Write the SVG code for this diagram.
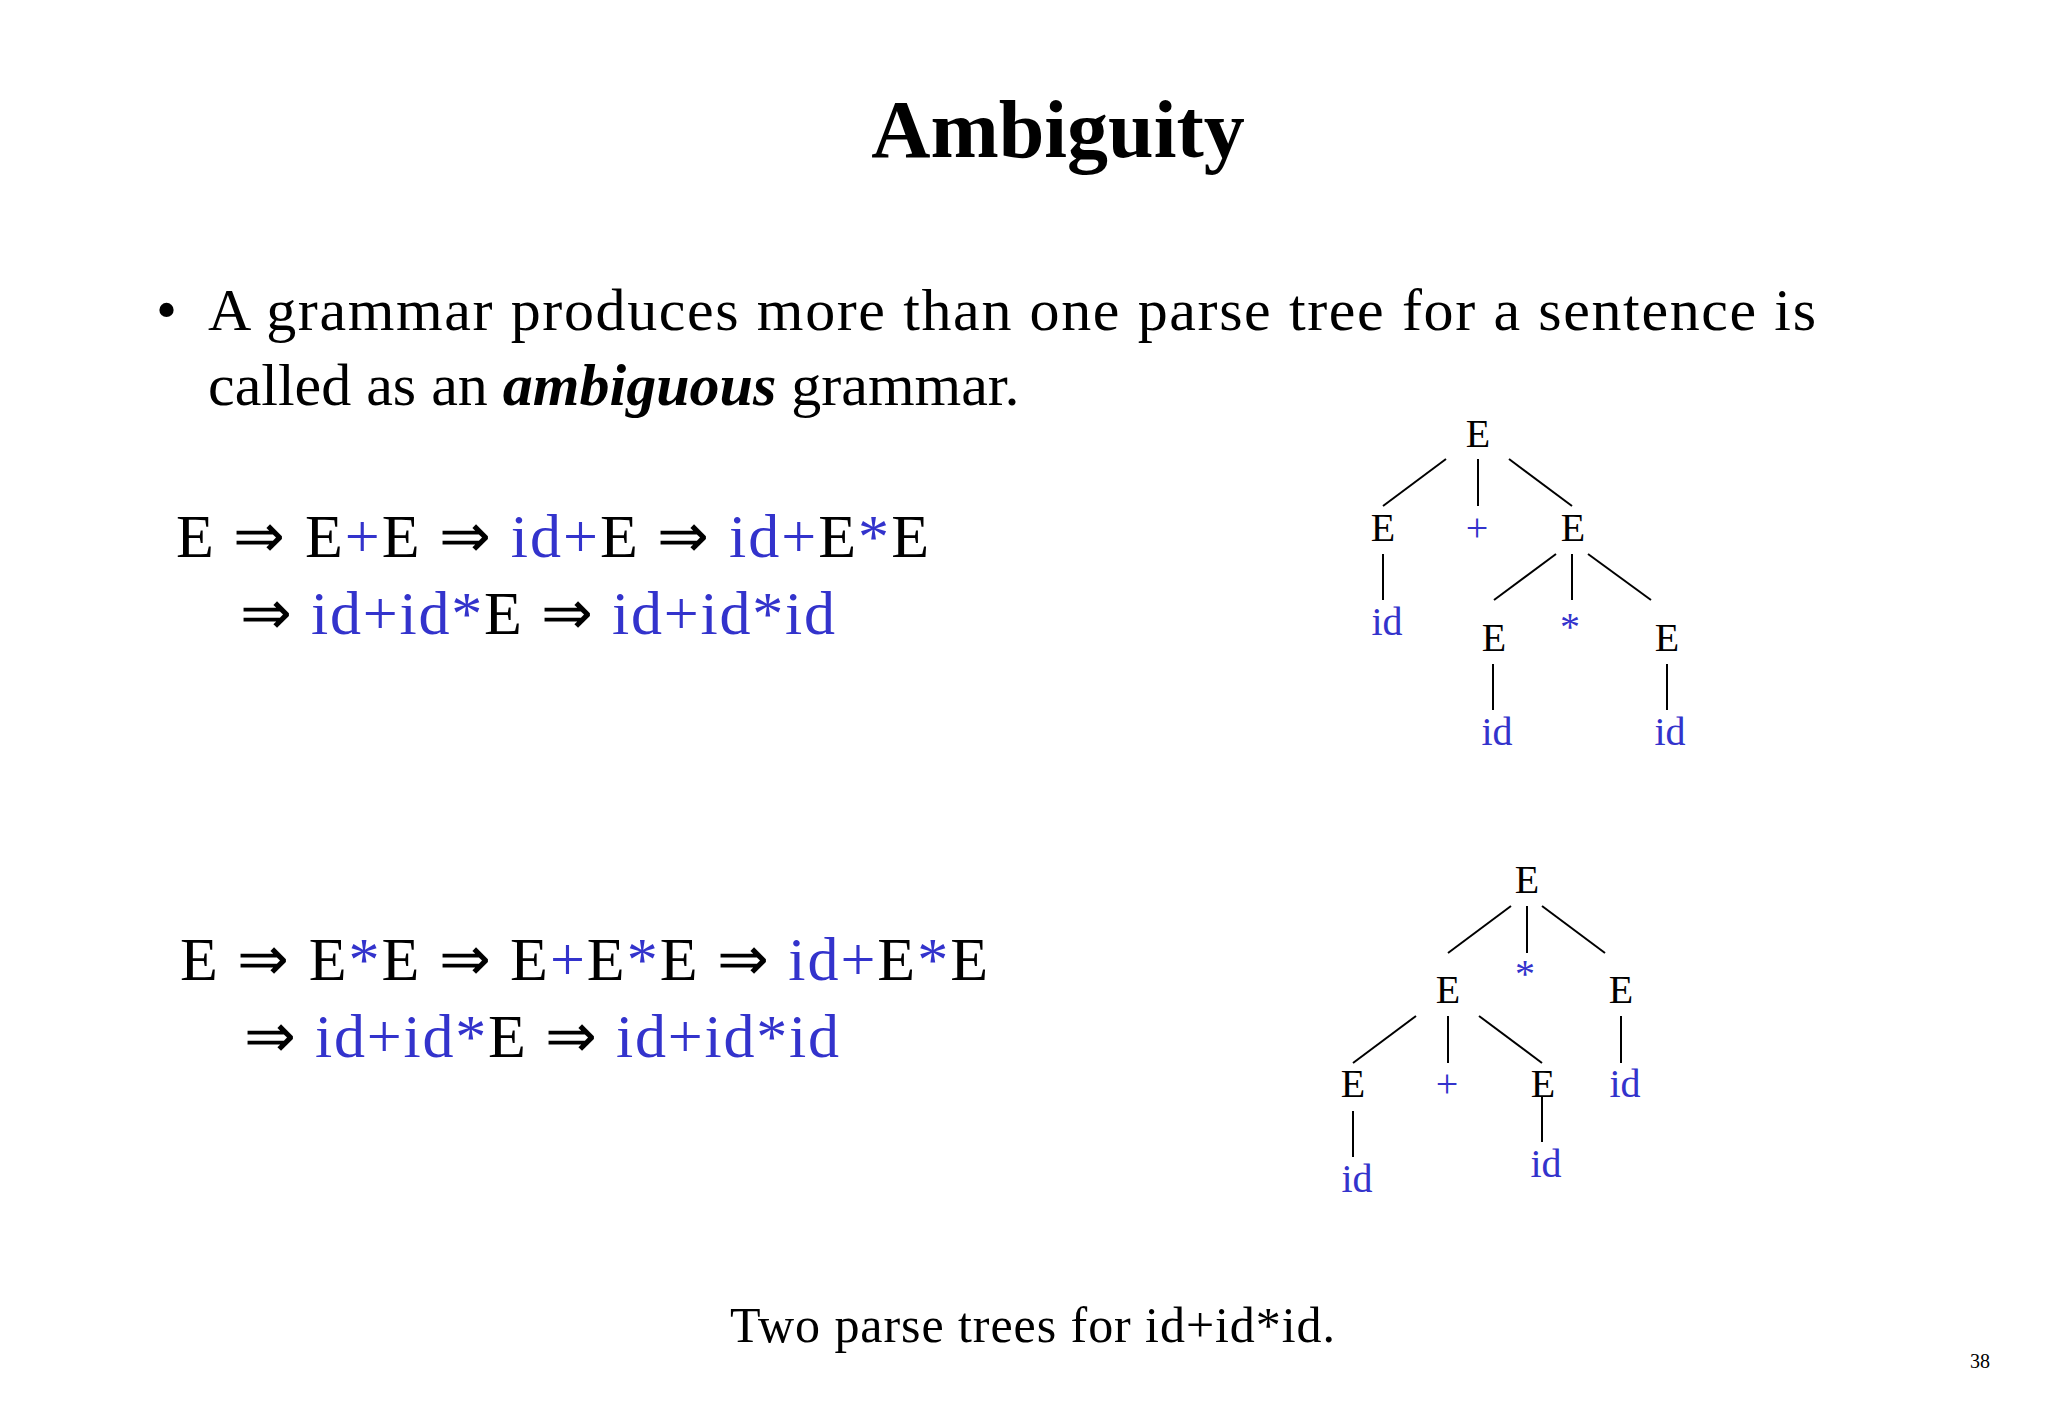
<svg xmlns="http://www.w3.org/2000/svg" width="2048" height="1418" viewBox="0 0 2048 1418">
<style>
text{font-family:"Liberation Serif","Times New Roman",serif;fill:#000}
.b{fill:#3333CC}
.t{font-size:40px;text-anchor:middle}
.d{font-size:62px}
line{stroke:#000;stroke-width:2}
</style>
<rect width="2048" height="1418" fill="#fff"/>
<text x="1058" y="157" font-size="82" font-weight="bold" text-anchor="middle">Ambiguity</text>
<text x="156" y="330" font-size="60">•</text>
<text x="208" y="330" font-size="60" textLength="1608">A grammar produces more than one parse tree for a sentence is</text>
<text x="208" y="405" font-size="60">called as an <tspan font-weight="bold" font-style="italic">ambiguous</tspan> grammar.</text>
<text class="d" x="176" y="557" textLength="753">E ⇒ E<tspan class="b">+</tspan>E ⇒ <tspan class="b">id+</tspan>E ⇒ <tspan class="b">id+</tspan>E<tspan class="b">*</tspan>E</text>
<text class="d" x="240" y="634" textLength="595">⇒ <tspan class="b">id+id*</tspan>E ⇒ <tspan class="b">id+id*id</tspan></text>
<text class="d" x="180" y="980" textLength="808">E ⇒ E<tspan class="b">*</tspan>E ⇒ E<tspan class="b">+</tspan>E<tspan class="b">*</tspan>E ⇒ <tspan class="b">id+</tspan>E<tspan class="b">*</tspan>E</text>
<text class="d" x="244" y="1057" textLength="595">⇒ <tspan class="b">id+id*</tspan>E ⇒ <tspan class="b">id+id*id</tspan></text>
<g id="tree1">
<g id="t1n1"><text class="t" x="1478" y="447">E</text></g>
<g id="t1n2"><text class="t" x="1383" y="541">E</text></g>
<g id="t1n3"><text class="t b" x="1477" y="541">+</text></g>
<g id="t1n4"><text class="t" x="1573" y="541">E</text></g>
<g id="t1n5"><text class="t b" x="1387" y="635">id</text></g>
<g id="t1n6"><text class="t" x="1494" y="651">E</text></g>
<g id="t1n7"><text class="t b" x="1570" y="640">*</text></g>
<g id="t1n8"><text class="t" x="1667" y="651">E</text></g>
<g id="t1n9"><text class="t b" x="1497" y="745">id</text></g>
<g id="t1n10"><text class="t b" x="1670" y="745">id</text></g>
</g>
<g id="tree2">
<g id="t2n1"><text class="t" x="1527" y="893">E</text></g>
<g id="t2n2"><text class="t" x="1448" y="1003">E</text></g>
<g id="t2n3"><text class="t b" x="1525" y="987">*</text></g>
<g id="t2n4"><text class="t" x="1621" y="1003">E</text></g>
<g id="t2n5"><text class="t" x="1353" y="1097">E</text></g>
<g id="t2n6"><text class="t b" x="1447" y="1097">+</text></g>
<g id="t2n7"><text class="t" x="1543" y="1097">E</text></g>
<g id="t2n8"><text class="t b" x="1625" y="1097">id</text></g>
<g id="t2n9"><text class="t b" x="1357" y="1192">id</text></g>
<g id="t2n10"><text class="t b" x="1546" y="1177">id</text></g>
</g>
<g id="connectors">
<line x1="1446" y1="459" x2="1383" y2="506"/>
<line x1="1478" y1="459" x2="1478" y2="506"/>
<line x1="1509" y1="459" x2="1572" y2="506"/>
<line x1="1383" y1="554" x2="1383" y2="600"/>
<line x1="1556" y1="554" x2="1494" y2="600"/>
<line x1="1572" y1="554" x2="1572" y2="600"/>
<line x1="1588" y1="554" x2="1651" y2="600"/>
<line x1="1493" y1="664" x2="1493" y2="710"/>
<line x1="1667" y1="664" x2="1667" y2="710"/>
<line x1="1511" y1="906" x2="1448" y2="953"/>
<line x1="1527" y1="906" x2="1527" y2="953"/>
<line x1="1542" y1="906" x2="1605" y2="953"/>
<line x1="1416" y1="1016" x2="1353" y2="1063"/>
<line x1="1448" y1="1016" x2="1448" y2="1063"/>
<line x1="1479" y1="1016" x2="1542" y2="1063"/>
<line x1="1621" y1="1016" x2="1621" y2="1063"/>
<line x1="1353" y1="1111" x2="1353" y2="1157"/>
<line x1="1542" y1="1097" x2="1542" y2="1142"/>
</g>
<text x="730" y="1342" font-size="50" textLength="605">Two parse trees for id+id*id.</text>
<text x="1970" y="1368" font-size="20">38</text>
</svg>
